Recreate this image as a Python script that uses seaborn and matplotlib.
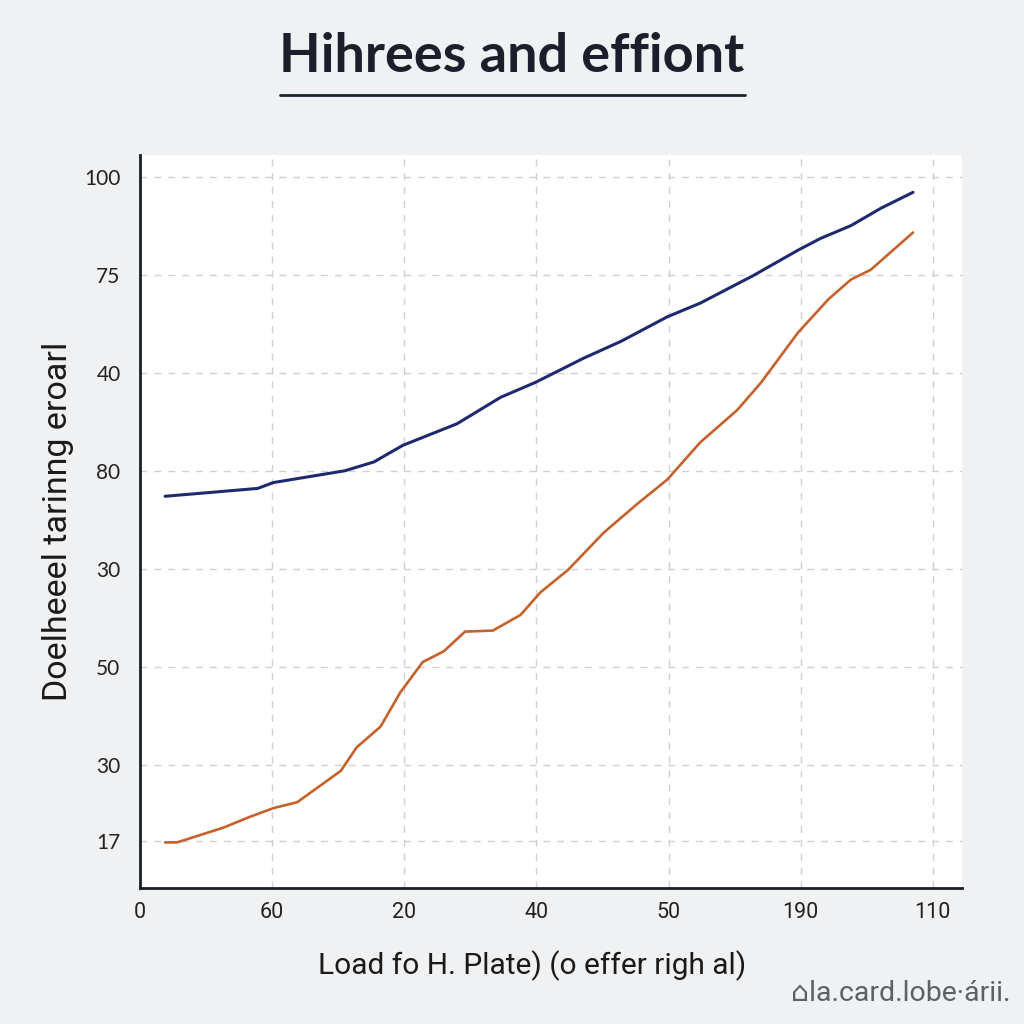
import numpy as np
import pandas as pd
import matplotlib
matplotlib.use("Agg")
import matplotlib.pyplot as plt
import seaborn as sns

# tick labels as printed on the chart (not monotonic)
x_tick_labels = ["0", "60", "20", "40", "50", "190", "110"]
y_tick_labels = ["17", "30", "50", "30", "80", "40", "75", "100"]
y_tick_pos = [0.22, 1, 2, 3, 4, 5, 6, 7]

# series, in tick-index units
blue_x = [0.19, 0.89, 1.01, 1.55, 1.77, 1.99, 2.40, 2.73, 2.99, 3.36, 3.64,
          3.99, 4.24, 4.64, 4.98, 5.15, 5.38, 5.61, 5.85]
blue_y = [3.74, 3.82, 3.88, 4.00, 4.09, 4.26, 4.48, 4.75, 4.90, 5.15, 5.32,
          5.57, 5.71, 5.99, 6.25, 6.37, 6.50, 6.68, 6.84]

orange_x = [0.19, 0.28, 0.63, 0.83, 1.01, 1.19, 1.52, 1.64, 1.82, 1.97, 2.14,
            2.30, 2.46, 2.67, 2.88, 3.03, 3.24, 3.51, 3.77, 3.99, 4.24, 4.52,
            4.70, 4.98, 5.21, 5.38, 5.53, 5.85]
orange_y = [0.21, 0.21, 0.36, 0.47, 0.56, 0.62, 0.94, 1.18, 1.39, 1.74, 2.05,
            2.16, 2.36, 2.37, 2.53, 2.76, 2.99, 3.37, 3.67, 3.91, 4.29, 4.62,
            4.90, 5.41, 5.75, 5.95, 6.05, 6.43]

blue_df = pd.DataFrame({"x": blue_x, "y": blue_y})
orange_df = pd.DataFrame({"x": orange_x, "y": orange_y})

sns.set_theme(style="white")
plt.rcParams["font.family"] = ["DejaVu Sans"]

bg = "#f0f1f2"
fig = plt.figure(figsize=(10.24, 10.24), dpi=100, facecolor=bg)
ax = fig.add_axes([0.1367, 0.1328, 0.8027, 0.7158])
ax.set_facecolor("white")

sns.lineplot(data=blue_df, x="x", y="y", ax=ax, color="#1f2a6e", linewidth=2.2,
             sort=False, estimator=None)
sns.lineplot(data=orange_df, x="x", y="y", ax=ax, color="#c5622b", linewidth=1.9,
             sort=False, estimator=None)

ax.set_xlim(0, 6.22)
ax.set_ylim(-0.255, 7.22)
ax.set_xticks(range(len(x_tick_labels)))
ax.set_xticklabels(x_tick_labels)
ax.set_yticks(y_tick_pos)
ax.set_yticklabels(y_tick_labels)

ax.grid(True, linestyle=(0, (5, 5)), color="#cdd1d6", linewidth=1.0)
for s in ["top", "right"]:
    ax.spines[s].set_visible(False)
for s in ["left", "bottom"]:
    ax.spines[s].set_color("#1a1d29")
    ax.spines[s].set_linewidth(2.0)

ax.tick_params(axis="y", length=0, pad=14, labelsize=14, labelcolor="#222222")
ax.tick_params(axis="x", length=0, pad=10, labelsize=13, labelcolor="#222222")
for t in ax.get_yticklabels():
    t.set_family(["Lato", "DejaVu Sans"])
    t.set_fontsize(15)
for t in ax.get_xticklabels():
    t.set_family(["Roboto", "DejaVu Sans"])
    t.set_fontsize(15.5)

ax.set_xlabel("Load fo H. Plate) (o effer righ al)", fontsize=21.5,
              family=["Roboto", "DejaVu Sans"], color="#1a1a1a")
ax.xaxis.set_label_coords(0.477, -0.085)
ax.set_ylabel("Doelheeel tarinng eroarl", fontsize=24.5,
              family=["Roboto", "DejaVu Sans"], color="#1a1a1a")
ax.yaxis.set_label_coords(-0.08, 0.5)

fig.text(0.5, 0.945, "Hihrees and effiont", ha="center", va="center",
         fontsize=39, fontweight="bold", family=["Lato", "DejaVu Sans"],
         color="#1c1f2b")
fig.add_artist(plt.Line2D([0.273, 0.728], [0.907, 0.907], color="#1c2333",
                          linewidth=2.0, transform=fig.transFigure))

fig.text(0.987, 0.03, "\u2302la.card.lobe\u00b7\u00e1rii.", ha="right", va="center",
         fontsize=20.5, color="#5e6063", family=["Roboto", "DejaVu Sans"])

fig.savefig("out.png", dpi=100, facecolor=bg)
